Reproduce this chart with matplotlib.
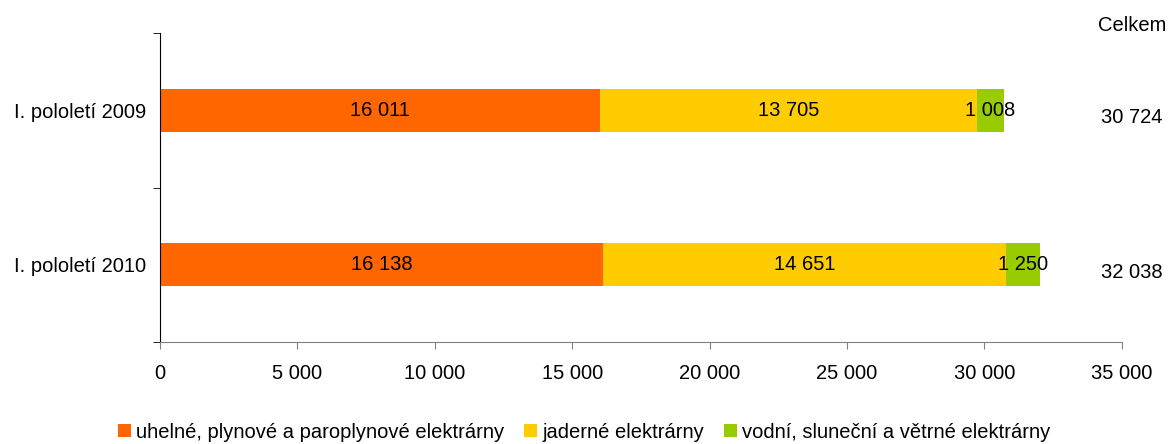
import matplotlib.pyplot as plt
import matplotlib.transforms as mtransforms

plt.rcParams['font.family'] = ['Liberation Sans', 'DejaVu Sans']

periods = ["I. pololetí 2009", "I. pololetí 2010"]
fossil = [16011, 16138]
nuclear = [13705, 14651]
renew = [1008, 1250]
totals = [30724, 32038]
series_names = ["uhelné, plynové a paroplynové elektrárny",
                "jaderné elektrárny",
                "vodní, sluneční a větrné elektrárny"]
colors = ["#FF6600", "#FFCC00", "#99CC00"]
FS = 14.5


def fmt(v):
    return "{:,}".format(v).replace(",", " ")


fig = plt.figure(figsize=(11.71, 4.44), dpi=100)
ax = fig.add_axes([0.1366, 0.2297, 0.958 - 0.1366, 0.9257 - 0.2297])

ypos = list(range(len(periods)))
left = [0] * len(periods)
for vals, name, col in zip([fossil, nuclear, renew], series_names, colors):
    bars = ax.barh(ypos, vals, left=left, height=0.28, color=col, label=name)
    for b, v in zip(bars, vals):
        ax.text(b.get_x() + b.get_width() / 2, b.get_y() + b.get_height() / 2, fmt(v),
                ha="center", va="center", fontsize=FS)
    left = [l + v for l, v in zip(left, vals)]

ax.set_ylim(1.5, -0.5)
ax.set_xlim(0, 35000)
ax.set_xticks(range(0, 35001, 5000))
ax.set_xticklabels([fmt(v) for v in range(0, 35001, 5000)], fontsize=FS)
ax.set_yticks(ypos)
ax.set_yticklabels(periods, fontsize=FS)
ax.tick_params(axis="y", length=0, pad=10)
ax.set_yticks([-0.5, 0.5, 1.5], minor=True)
ax.tick_params(axis="y", which="minor", length=5, color="black")
ax.tick_params(axis="x", length=5, color="#808080", pad=11)

for s in ["top", "right"]:
    ax.spines[s].set_visible(False)
ax.spines["bottom"].set_color("#808080")
ax.spines["left"].set_color("black")

trans = mtransforms.blended_transform_factory(ax.transAxes, ax.transData)
for y, t in zip(ypos, totals):
    ax.text(1.0105, y + 0.05, fmt(t), transform=trans, ha="center", va="center", fontsize=FS)
ax.text(1.0105, -0.55, "Celkem", transform=trans, ha="center", va="center", fontsize=FS,
        clip_on=False)

ax.legend(loc="center", bbox_to_anchor=(0.499, 0.027), bbox_transform=fig.transFigure,
          ncol=3, frameon=False, fontsize=FS, handlelength=0.65, handleheight=0.65,
          handletextpad=0.25, columnspacing=1.0, borderpad=0)

fig.savefig("out.png", dpi=100)
